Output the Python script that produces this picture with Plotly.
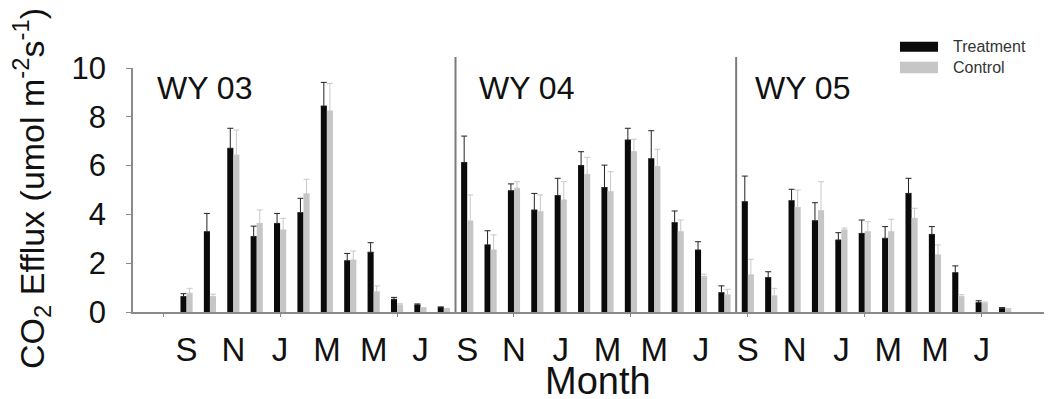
import plotly.graph_objects as go

# ---------------- data ----------------
months = ["S", "O", "N", "D", "J", "F", "M", "A", "M", "J", "J", "A"] * 3
slots = list(range(len(months)))

treatment = [0.63, 3.29, 6.71, 3.09, 3.63, 4.07, 8.44, 2.10, 2.45, 0.52, 0.29, 0.18,
             6.13, 2.75, 4.97, 4.18, 4.77, 6.00, 5.10, 7.05, 6.28, 3.66, 2.54, 0.79,
             4.52, 1.41, 4.56, 3.74, 2.95, 3.22, 3.02, 4.86, 3.18, 1.61, 0.38, 0.15]
treatment_err = [0.12, 0.75, 0.82, 0.43, 0.41, 0.59, 0.97, 0.30, 0.39, 0.08, 0.04, 0.03,
                 1.08, 0.58, 0.28, 0.68, 0.71, 0.57, 0.92, 0.48, 1.15, 0.48, 0.34, 0.28,
                 1.05, 0.24, 0.47, 0.74, 0.30, 0.55, 0.48, 0.62, 0.32, 0.28, 0.08, 0.03]
control = [0.77, 0.63, 6.43, 3.63, 3.36, 4.84, 8.24, 2.13, 0.83, 0.29, 0.15, 0.12,
           3.73, 2.54, 5.07, 4.11, 4.59, 5.64, 4.93, 6.57, 5.96, 3.29, 1.45, 0.70,
           1.52, 0.66, 4.28, 4.15, 3.36, 3.29, 3.29, 3.84, 2.34, 0.63, 0.36, 0.12]
control_err = [0.20, 0.10, 1.03, 0.55, 0.48, 0.60, 1.13, 0.37, 0.24, 0.05, 0.03, 0.02,
               1.07, 0.62, 0.27, 0.69, 0.75, 0.70, 0.82, 0.51, 0.71, 0.48, 0.10, 0.23,
               0.64, 0.31, 0.72, 1.19, 0.08, 0.41, 0.51, 0.41, 0.41, 0.08, 0.05, 0.02]

water_years = ["WY 03", "WY 04", "WY 05"]
wy_label_slot = [-1.35, 12.41, 24.21]
wy_dividers = [11.5, 23.5]
minor_ticks = [-1, 4, 9, 14, 19, 24, 29, 34]
label_slots = slots[::2]
label_text = months[::2]

FONT = "Liberation Sans, Arial, sans-serif"
AXIS_GRAY = "#8a8a8a"

fig = go.Figure()
fig.add_trace(go.Bar(
    x=slots, y=treatment, name="Treatment", marker=dict(color="#0a0a0a", line=dict(width=0)),
    error_y=dict(type="data", symmetric=False, array=treatment_err,
                 arrayminus=[0] * len(treatment_err), color="#222222", thickness=1, width=3),
))
fig.add_trace(go.Bar(
    x=slots, y=control, name="Control", marker=dict(color="#c6c6c6", line=dict(width=0)),
    error_y=dict(type="data", symmetric=False, array=control_err,
                 arrayminus=[0] * len(control_err), color="#c8c8c8", thickness=1, width=3),
))
# invisible trace to host the minor tick axis
fig.add_trace(go.Scatter(x=[minor_ticks[0]], y=[0], xaxis="x2", mode="markers",
                         marker=dict(opacity=0), showlegend=False, hoverinfo="skip"))

xr = [-2.29, 36.92]
fig.update_layout(
    width=1044, height=391,
    margin=dict(l=125, r=2, t=60, b=87, autoexpand=False),
    paper_bgcolor="white", plot_bgcolor="white",
    barmode="group", bargap=0.48, bargroupgap=0,
    showlegend=False,
    font=dict(family=FONT, color="#111111"),
    xaxis=dict(range=xr, tickmode="array", tickvals=label_slots, ticktext=label_text,
               ticks="outside", ticklen=7, tickcolor="rgba(0,0,0,0)",
               showgrid=False, zeroline=False, showline=True, automargin=False,
               linecolor=AXIS_GRAY, linewidth=2, tickfont=dict(size=33)),
    xaxis2=dict(range=xr, overlaying="x", anchor="y", side="bottom", tickmode="array",
                tickvals=minor_ticks, ticks="outside", ticklen=4, tickcolor=AXIS_GRAY,
                tickwidth=1, showticklabels=False, showgrid=False, zeroline=False,
                showline=False, automargin=False),
    yaxis=dict(range=[0, 10], tickmode="array", tickvals=[0, 2, 4, 6, 8, 10],
               ticks="outside", ticklen=5, tickcolor=AXIS_GRAY, showgrid=False,
               zeroline=False, showline=True, linecolor=AXIS_GRAY, linewidth=1.5,
               tickfont=dict(size=31), ticklabelstandoff=14, automargin=False),
)

# water-year dividers
for d in wy_dividers:
    fig.add_shape(type="line", xref="x", yref="paper", x0=d, x1=d, y0=0, y1=1.045,
                  line=dict(color="#7a7a7a", width=2))

# water-year labels
for lab, s in zip(water_years, wy_label_slot):
    fig.add_annotation(text=lab, x=s, y=9.18, xref="x", yref="y", xanchor="left",
                       yanchor="middle", showarrow=False, font=dict(size=32, color="#111111"))

# axis titles
fig.add_annotation(text="Month", x=0.507, y=-0.281, xref="paper", yref="paper",
                   xanchor="center", yanchor="middle", showarrow=False,
                   font=dict(size=38, color="#111111"))
fig.add_annotation(text="CO<sub>2</sub> Efflux (umol m<sup>-2</sup>s<sup>-1</sup>)",
                   x=-0.111, y=0.505, xref="paper", yref="paper", textangle=-90,
                   xanchor="center", yanchor="middle", showarrow=False,
                   font=dict(size=34, color="#111111"))

# legend
legend_items = [("Treatment", "#0a0a0a", 1.1078, 1.0668, 1.0873),
                ("Control", "#c6c6c6", 1.0258, 0.9783, 1.002)]
for name, col, ya, yb, yt in legend_items:
    fig.add_shape(type="rect", xref="paper", yref="paper", x0=0.8364, x1=0.8779,
                  y0=yb, y1=ya, fillcolor=col, line=dict(width=0))
    fig.add_annotation(text=name, x=0.8917, y=yt, xref="paper", yref="paper",
                       xanchor="left", yanchor="middle", showarrow=False,
                       font=dict(size=16, color="#333333"))

fig.write_html("out.html")
